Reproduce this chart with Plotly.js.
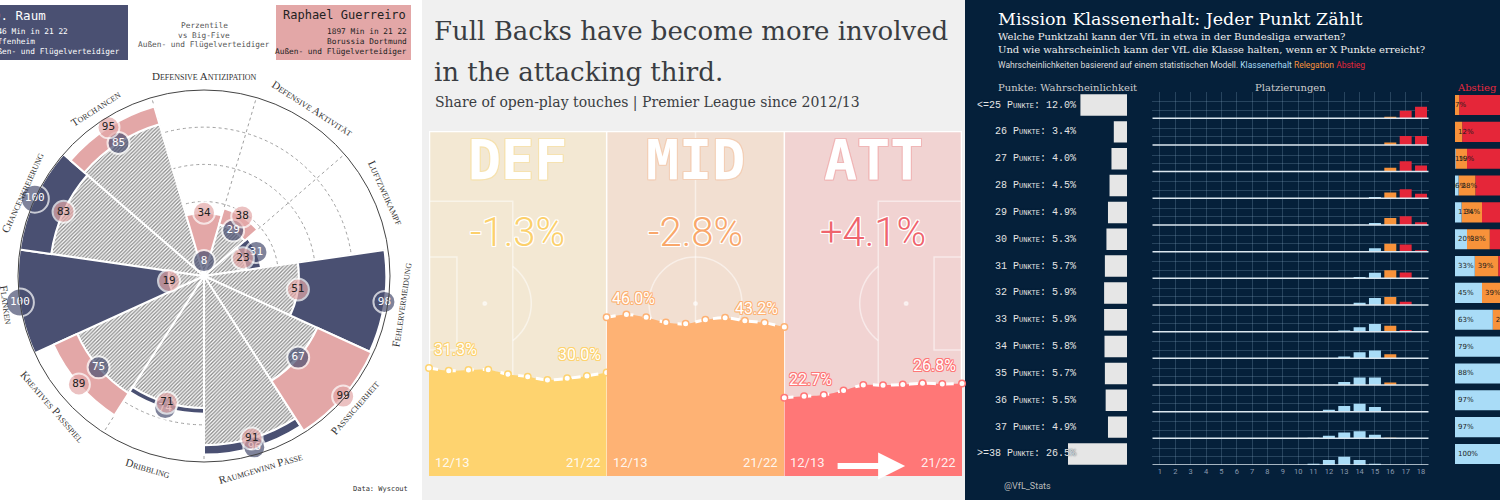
<!DOCTYPE html>
<html lang="de">
<head>
<meta charset="utf-8">
<title>Außenverteidiger</title>
<script src="https://cdn.plot.ly/plotly-3.0.1.min.js"></script>
<style>
  html, body { margin: 0; padding: 0; background: #fff; }
  #chart { width: 1500px; height: 500px; }
</style>
</head>
<body>
<div id="chart"></div>
<script>
// ================= Daten =================
// Perzentile vs Big-Five Außen- und Flügelverteidiger
const radarKategorien = ['Defensive Antizipation', 'Defensive Aktivität', 'Luftzweikampf', 'Fehlervermeidung',
  'Passsicherheit', 'Raumgewinn Pässe', 'Dribbling', 'Kreatives Passspiel', 'Flanken', 'Chancenkreierung', 'Torchancen'];
const raumPerzentile = [8, 29, 31, 98, 67, 96, 74, 75, 100, 100, 85];
const guerreiroPerzentile = [34, 38, 23, 51, 99, 91, 71, 89, 19, 83, 95];

// Share of open-play touches by pitch third, Premier League
const saisons = ['12/13', '13/14', '14/15', '15/16', '16/17', '17/18', '18/19', '19/20', '20/21', '21/22'];
const defAnteil = [31.3, 30.5, 30.7, 30.8, 29.5, 28.8, 27.8, 28.3, 29.0, 30.0];
const midAnteil = [46.0, 46.8, 46.0, 44.5, 44.1, 45.3, 45.9, 45.0, 44.4, 43.2];
const attAnteil = [22.7, 23.1, 23.5, 24.8, 26.4, 26.3, 26.5, 26.9, 26.7, 26.8];
const drittel = ['DEF', 'MID', 'ATT'];

// VfL: Punkteklassen und Platzierungen
const punkteKlassen = ['<=25', '26', '27', '28', '29', '30', '31', '32', '33', '34', '35', '36', '37', '>=38'];
const punkteWahrscheinlichkeit = [12.0, 3.4, 4.0, 4.5, 4.9, 5.3, 5.7, 5.9, 5.9, 5.8, 5.7, 5.5, 4.9, 26.5];
const plaetze = [1, 2, 3, 4, 5, 6, 7, 8, 9, 10, 11, 12, 13, 14, 15, 16, 17, 18];
// Wahrscheinlichkeit (%) je Tabellenplatz 1-18, eine Zeile pro Punkteklasse
const platzierungen = [
  [0, 0, 0, 0, 0, 0, 0, 0, 0, 0, 0, 0, 0, 0, 0, 7, 37, 56],
  [0, 0, 0, 0, 0, 0, 0, 0, 0, 0, 0, 0, 0, 0, 0, 12, 44, 44],
  [0, 0, 0, 0, 0, 0, 0, 0, 0, 0, 0, 0, 0, 0, 1, 19, 50, 30],
  [0, 0, 0, 0, 0, 0, 0, 0, 0, 0, 0, 0, 0, 0, 6, 28, 44, 22],
  [0, 0, 0, 0, 0, 0, 0, 0, 0, 0, 0, 0, 0, 1, 10, 34, 42, 13],
  [0, 0, 0, 0, 0, 0, 0, 0, 0, 0, 0, 0, 0, 3, 17, 38, 35, 7],
  [0, 0, 0, 0, 0, 0, 0, 0, 0, 0, 0, 0, 0, 6, 27, 39, 28, 0],
  [0, 0, 0, 0, 0, 0, 0, 0, 0, 0, 0, 0, 0, 11, 34, 39, 16, 0],
  [0, 0, 0, 0, 0, 0, 0, 0, 0, 0, 0, 0, 5, 21, 37, 29, 8, 0],
  [0, 0, 0, 0, 0, 0, 0, 0, 0, 0, 0, 2, 9, 30, 38, 20, 1, 0],
  [0, 0, 0, 0, 0, 0, 0, 0, 0, 0, 0, 1, 15, 36, 36, 12, 0, 0],
  [0, 0, 0, 0, 0, 0, 0, 0, 0, 0, 0, 9, 27, 38, 23, 3, 0, 0],
  [0, 0, 0, 0, 0, 0, 0, 0, 0, 0, 3, 12, 29, 35, 18, 3, 0, 0],
  [0, 0, 0, 0, 0, 0, 0, 0, 0, 0, 6, 24, 40, 24, 6, 0, 0, 0]
];
const klassenerhaltQuote = [0, 0, 1, 6, 11, 20, 33, 45, 63, 79, 88, 97, 97, 100];
const relegationQuote = [7, 12, 19, 28, 34, 38, 39, 39, 29, 20, 12, 3, 3, 0];
const abstiegQuote = [93, 88, 80, 66, 55, 42, 28, 16, 8, 1, 0, 0, 0, 0];

// ================= Hilfen =================
const W = 1500, H = 500;
const px = x => x / W;
const py = y => 1 - y / H;
const outline = (c, w) => [[w, 0], [-w, 0], [0, w], [0, -w], [w, w], [-w, -w], [w, -w], [-w, w]]
  .map(([a, b]) => `${a}px ${b}px 0 ${c}`).join(', ');

const NAVY = '#4a5072', PINK = '#e3a7a7';
const BLAU = '#a9dcf7', ORANGE = '#f8923a', ROT = '#e52639';
const MONO = 'DejaVu Sans Mono';

const traces = [];
const annotations = [];
const shapes = [];

// ================= Hintergründe =================
shapes.push({type: 'rect', xref: 'paper', yref: 'paper', x0: px(422), x1: px(965), y0: 0, y1: 1,
  fillcolor: '#f0f0f0', line: {width: 0}, layer: 'below'});
shapes.push({type: 'rect', xref: 'paper', yref: 'paper', x0: px(965), x1: 1, y0: 0, y1: 1,
  fillcolor: '#05203a', line: {width: 0}, layer: 'below'});

// ================= Panel 1: Radar =================
const N = radarKategorien.length;
const sektor = 360 / N;
const winkel = radarKategorien.map((_, i) => i * sektor);
const grenzen = radarKategorien.map((_, i) => (i + 0.5) * sektor);
const sockel = raumPerzentile.map((v, i) => Math.min(v, guerreiroPerzentile[i]));

traces.push({
  type: 'barpolar', r: sockel, theta: winkel, width: sektor, hoverinfo: 'skip',
  marker: {color: '#ffffff', line: {color: '#ffffff', width: 2},
    pattern: {shape: '/', fgcolor: '#8a8a8a', bgcolor: '#ffffff', size: 2.6, solidity: 0.5}}
});
traces.push({
  type: 'barpolar', base: sockel, theta: winkel, width: sektor, hoverinfo: 'skip',
  r: raumPerzentile.map((v, i) => Math.max(0, v - sockel[i])),
  marker: {color: NAVY, line: {color: '#ffffff', width: 2}}
});
traces.push({
  type: 'barpolar', base: sockel, theta: winkel, width: sektor, hoverinfo: 'skip',
  r: guerreiroPerzentile.map((v, i) => Math.max(0, v - sockel[i])),
  marker: {color: PINK, line: {color: '#ffffff', width: 2}}
});
const kreis = v => (String(v).length > 2 ? 28 : 22);
traces.push({
  type: 'scatterpolar', mode: 'markers+text', r: raumPerzentile, theta: winkel,
  text: raumPerzentile.map(String), cliponaxis: false, hoverinfo: 'skip',
  textfont: {family: MONO, size: 11, color: '#ffffff'},
  marker: {size: raumPerzentile.map(kreis), color: NAVY, line: {color: '#ffffff', width: 2}}
});
traces.push({
  type: 'scatterpolar', mode: 'markers+text', r: guerreiroPerzentile, theta: winkel,
  text: guerreiroPerzentile.map(String), cliponaxis: false, hoverinfo: 'skip',
  textfont: {family: MONO, size: 11, color: '#222222'},
  marker: {size: guerreiroPerzentile.map(kreis), color: PINK, line: {color: '#ffffff', width: 2}}
});

// Kategorienamen entlang des Kreises
const cx = 204, cy = 276, rLabel = 200;
radarKategorien.forEach((kat, i) => {
  const t = winkel[i];
  const rad = t * Math.PI / 180;
  const unten = t > 90 && t < 270;
  annotations.push({
    text: kat, xref: 'paper', yref: 'paper', showarrow: false,
    x: px(cx + rLabel * Math.sin(rad)), y: py(cy - rLabel * Math.cos(rad)),
    xanchor: 'center', yanchor: 'middle',
    textangle: unten ? t - 180 : (t > 180 ? t - 360 : t),
    font: {family: 'Liberation Serif', size: 11, color: '#333333', variant: 'small-caps'}
  });
});

// Spielerkästen
shapes.push({type: 'rect', xref: 'paper', yref: 'paper', x0: px(-10), x1: px(128), y0: py(60), y1: py(5),
  fillcolor: NAVY, line: {width: 0}});
shapes.push({type: 'rect', xref: 'paper', yref: 'paper', x0: px(276), x1: px(411), y0: py(60), y1: py(5),
  fillcolor: PINK, line: {width: 0}});
const kasten = (text, x, y, anchor, size, color) => annotations.push({
  text, x: px(x), y: py(y), xref: 'paper', yref: 'paper', xanchor: anchor, yanchor: 'middle',
  showarrow: false, font: {family: MONO, size, color}
});
kasten('D. Raum', -9, 15, 'left', 12.5, '#ffffff');
kasten('1946 Min in 21 22', -14, 31, 'left', 7.8, '#ffffff');
kasten('Hoffenheim', -14, 41.5, 'left', 7.8, '#ffffff');
kasten('Außen- und Flügelverteidiger', -14, 52, 'left', 7.8, '#ffffff');
kasten('Raphael Guerreiro', 281, 15, 'left', 12, '#222222');
kasten('1897 Min in 21 22', 409, 31, 'right', 7.8, '#222222');
kasten('Borussia Dortmund', 409, 41.5, 'right', 7.8, '#222222');
kasten('Außen- und Flügelverteidiger', 409, 52, 'right', 7.8, '#222222');
kasten('Perzentile', 204, 25, 'center', 7.8, '#555555');
kasten('vs Big-Five', 204, 35, 'center', 7.8, '#555555');
kasten('Außen- und Flügelverteidiger', 204, 45, 'center', 7.8, '#555555');
kasten('Data: Wyscout', 410, 489, 'right', 7, '#333333');

// ================= Panel 2: Spielfeld-Drittel =================
const k = 100 / 68; // Meter -> Prozentachse
const feldLinie = {color: 'rgba(255,255,255,0.5)', width: 1.5};
const drittelHintergrund = ['#f3e8d3', '#f2dfd1', '#f1d3d2'];
drittelHintergrund.forEach((c, i) => shapes.push({type: 'rect', xref: 'x', yref: 'y',
  x0: i * 35, x1: (i + 1) * 35, y0: 0, y1: 100, fillcolor: c, line: {width: 0}, layer: 'below'}));
const feldRect = (x0, x1, y0, y1) => shapes.push({type: 'rect', xref: 'x', yref: 'y', x0, x1,
  y0: y0 * k, y1: y1 * k, line: feldLinie, layer: 'below'});
const feldKreis = (xm, ym, r, fill) => shapes.push({type: 'circle', xref: 'x', yref: 'y',
  x0: xm - r, x1: xm + r, y0: (ym - r) * k, y1: (ym + r) * k, line: feldLinie,
  fillcolor: fill ? 'rgba(255,255,255,0.6)' : 'rgba(0,0,0,0)', layer: 'below'});
const bogen = (xSpot, seite) => {
  const phi = Math.acos(5.5 / 9.15);
  const pts = [];
  for (let j = 0; j <= 20; j++) {
    const a = -phi + 2 * phi * j / 20;
    pts.push(`${(xSpot + seite * 9.15 * Math.cos(a)).toFixed(3)},${((34 + 9.15 * Math.sin(a)) * k).toFixed(3)}`);
  }
  shapes.push({type: 'path', xref: 'x', yref: 'y', path: 'M' + pts.join(' L'), line: feldLinie, layer: 'below'});
};
feldRect(0, 16.5, 34 - 20.16, 34 + 20.16);
feldRect(0, 5.5, 34 - 9.16, 34 + 9.16);
feldRect(105 - 16.5, 105, 34 - 20.16, 34 + 20.16);
feldRect(105 - 5.5, 105, 34 - 9.16, 34 + 9.16);
feldKreis(52.5, 34, 9.15, false);
feldKreis(52.5, 34, 0.35, true);
feldKreis(11, 34, 0.35, true);
feldKreis(94, 34, 0.35, true);
bogen(11, 1);
bogen(94, -1);
shapes.push({type: 'line', xref: 'x', yref: 'y', x0: 52.5, x1: 52.5, y0: 0, y1: 100, line: feldLinie, layer: 'below'});
[35, 70].forEach(x => shapes.push({type: 'line', xref: 'x', yref: 'y', x0: x, x1: x, y0: 0, y1: 100,
  line: {color: 'rgba(255,255,255,0.95)', width: 1.5}, layer: 'below'}));
shapes.push({type: 'rect', xref: 'x', yref: 'y', x0: 0, x1: 105, y0: 0, y1: 100,
  line: {color: '#ffffff', width: 2.5}, layer: 'below'});

const drittelDaten = [defAnteil, midAnteil, attAnteil];
const drittelFarben = ['#fed36f', '#feb274', '#ff7777'];
const drittelText = ['#fcd06b', '#f9a76b', '#ef646d'];
const drittelKontur = ['#f6e2b0', '#f3cfb6', '#f0b7b7'];
drittelDaten.forEach((werte, i) => {
  const xa = 'x' + (i + 2);
  traces.push({
    type: 'scatter', xaxis: xa, yaxis: 'y', x: saisons, y: werte, mode: 'lines+markers',
    fill: 'tozeroy', fillcolor: drittelFarben[i], cliponaxis: false, hoverinfo: 'skip',
    line: {color: '#ffffff', width: 3, dash: 'dash', shape: 'spline', smoothing: 0.8},
    marker: {size: 6.5, color: '#ffffff', line: {color: drittelFarben[i], width: 1.5}}
  });
  const erst = werte[0], letzt = werte[werte.length - 1];
  const diff = letzt - erst;
  const wertFont = {family: 'Roboto', size: 16, color: '#ffffff', shadow: outline(drittelFarben[i], 0.8)};
  annotations.push({text: erst.toFixed(1) + '%', xref: xa, yref: 'y', x: saisons[0], y: erst,
    xanchor: 'left', yanchor: 'bottom', xshift: 3, yshift: 7, showarrow: false, font: wertFont});
  annotations.push({text: letzt.toFixed(1) + '%', xref: xa, yref: 'y', x: saisons[saisons.length - 1], y: letzt,
    xanchor: 'right', yanchor: 'bottom', xshift: -4, yshift: 7, showarrow: false, font: wertFont});
  const jahrFont = {family: 'Roboto', size: 13, color: 'rgba(255,255,255,0.9)'};
  annotations.push({text: saisons[0], xref: xa, yref: 'y', x: saisons[0], y: 0, xanchor: 'left',
    yanchor: 'bottom', xshift: 4, yshift: 4, showarrow: false, font: jahrFont});
  annotations.push({text: saisons[saisons.length - 1], xref: xa, yref: 'y', x: saisons[saisons.length - 1], y: 0,
    xanchor: 'right', yanchor: 'bottom', xshift: -4, yshift: 4, showarrow: false, font: jahrFont});
  annotations.push({text: drittel[i], xref: 'x', yref: 'y', x: 17.5 + 35 * i, y: 91.5, showarrow: false,
    xanchor: 'center', yanchor: 'middle',
    font: {family: MONO, size: 55, weight: 600, color: '#ffffff', shadow: outline(drittelKontur[i], 1)}});
  annotations.push({text: (diff > 0 ? '+' : '') + diff.toFixed(1) + '%', xref: 'x', yref: 'y',
    x: 17.5 + 35 * i, y: 70.5, showarrow: false, xanchor: 'center', yanchor: 'middle',
    font: {family: 'Roboto', size: 40, weight: 300, color: drittelText[i], shadow: outline('#ffffff', 1)}});
});
annotations.push({text: '', xref: 'x', yref: 'y', axref: 'x', ayref: 'y', x: 93.8, y: 2.9, ax: 80.2, ay: 2.9,
  showarrow: true, arrowhead: 2, arrowsize: 0.9, arrowwidth: 6, arrowcolor: '#ffffff'});

const titelFont = {family: 'DejaVu Serif', size: 26, color: '#3a3d42'};
annotations.push({text: 'Full Backs have become more involved', xref: 'paper', yref: 'paper', x: px(432), y: py(31),
  xanchor: 'left', yanchor: 'middle', showarrow: false, font: titelFont});
annotations.push({text: 'in the attacking third.', xref: 'paper', yref: 'paper', x: px(432), y: py(72),
  xanchor: 'left', yanchor: 'middle', showarrow: false, font: titelFont});
annotations.push({text: 'Share of open-play touches | Premier League since 2012/13', xref: 'paper', yref: 'paper',
  x: px(433), y: py(103), xanchor: 'left', yanchor: 'middle', showarrow: false,
  font: {family: 'DejaVu Serif', size: 14, color: '#3a3d42'}});

// ================= Panel 3: VfL =================
traces.push({type: 'bar', orientation: 'h', xaxis: 'x5', yaxis: 'y5', y: punkteKlassen, x: punkteWahrscheinlichkeit,
  width: 0.8, marker: {color: '#e6e6e6'}, hoverinfo: 'skip'});
// Zeilenbeschriftung über den Kategorienindex platzieren
punkteKlassen.forEach((kl, z) => annotations.push({
  text: `${kl.replace('<', '&lt;').replace('>', '&gt;')} Punkte: ${punkteWahrscheinlichkeit[z].toFixed(1)}%`,
  xref: 'paper', yref: 'y5', x: px(1078), y: z, xanchor: 'right', yanchor: 'middle', showarrow: false,
  font: {family: 'Liberation Mono', size: 10, color: '#e4e4e4', variant: 'small-caps',
    shadow: '0px 0px 1.5px #05203a'}
}));

const zeilenHoehe = 130;
const basisVon = z => (punkteKlassen.length - 1 - z) * zeilenHoehe;
const gruppen = [
  {farbe: BLAU, passt: p => p <= 15},
  {farbe: ORANGE, passt: p => p === 16},
  {farbe: ROT, passt: p => p >= 17}
];
gruppen.forEach(g => {
  const x = [], y = [], base = [];
  platzierungen.forEach((zeile, z) => zeile.forEach((v, j) => {
    if (g.passt(plaetze[j]) && v > 0) { x.push(plaetze[j]); y.push(v); base.push(basisVon(z)); }
  }));
  traces.push({type: 'bar', xaxis: 'x6', yaxis: 'y6', x, y, base, width: 0.78,
    marker: {color: g.farbe}, hoverinfo: 'skip'});
});
punkteKlassen.forEach((_, z) => shapes.push({type: 'line', xref: 'x6', yref: 'y6', x0: 0.5, x1: 18.5,
  y0: basisVon(z), y1: basisVon(z), line: {color: '#dce7f0', width: 1.5}, layer: 'above'}));

// Gestapelte Balken: Abstieg zuerst zeichnen, damit die Beschriftungen links darüber liegen
const stapel = [klassenerhaltQuote, relegationQuote, abstiegQuote];
const stapelFarben = [BLAU, ORANGE, ROT];
[2, 1, 0].forEach(s => {
  const werte = stapel[s];
  const base = werte.map((_, z) => stapel.slice(0, s).reduce((a, arr) => a + arr[z], 0));
  const trace = {type: 'bar', orientation: 'h', xaxis: 'x7', yaxis: 'y7', y: punkteKlassen, x: werte, base,
    width: 0.75, marker: {color: stapelFarben[s]}, hoverinfo: 'skip'};
  if (s < 2) {
    Object.assign(trace, {text: werte.map(v => (v > 0 ? v + '%' : '')), textposition: 'inside',
      insidetextanchor: 'start', constraintext: 'none', textangle: 0,
      textfont: {family: 'DejaVu Sans', size: 7, color: '#1c1c1c'}});
  }
  traces.push(trace);
});

const rechtsText = (text, x, y, anchor, font) => annotations.push({text, xref: 'paper', yref: 'paper',
  x: px(x), y: py(y), xanchor: anchor, yanchor: 'middle', showarrow: false, font});
rechtsText('Mission Klassenerhalt: Jeder Punkt Zählt', 996, 19, 'left',
  {family: 'DejaVu Serif', size: 17.5, color: '#ffffff'});
rechtsText('Welche Punktzahl kann der VfL in etwa in der Bundesliga erwarten?', 996, 37, 'left',
  {family: 'DejaVu Serif', size: 10, color: '#eeeeee'});
rechtsText('Und wie wahrscheinlich kann der VfL die Klasse halten, wenn er X Punkte erreicht?', 996, 50, 'left',
  {family: 'DejaVu Serif', size: 10, color: '#eeeeee'});
rechtsText('Wahrscheinlichkeiten basierend auf einem statistischen Modell. ' +
  `<span style="color:${BLAU}">Klassenerhalt</span> <span style="color:${ORANGE}">Relegation</span> ` +
  `<span style="color:${ROT}">Abstieg</span>`, 996, 65, 'left', {family: 'Roboto', size: 8.5, color: '#dddddd'});
rechtsText('Punkte: Wahrscheinlichkeit', 996, 88, 'left', {family: 'DejaVu Serif', size: 10, color: '#cccccc'});
rechtsText('Platzierungen', 1290, 88, 'center', {family: 'DejaVu Serif', size: 10, color: '#cccccc'});
rechtsText('Abstieg', 1455, 88, 'left', {family: 'DejaVu Serif', size: 10, color: '#e8283d'});
rechtsText('@VfL_Stats', 1027, 486, 'center', {family: 'Roboto', size: 9, color: '#bbbbbb'});

// ================= Layout =================
const gitter = 'rgba(130,160,190,0.28)';
const layout = {
  width: W, height: H, margin: {l: 0, r: 0, t: 0, b: 0},
  paper_bgcolor: '#ffffff', plot_bgcolor: 'rgba(0,0,0,0)', showlegend: false, barmode: 'overlay',
  font: {family: 'Roboto', color: '#333333'},
  polar: {
    domain: {x: [px(18), px(390)], y: [py(462), py(90)]},
    bgcolor: 'rgba(0,0,0,0)', barmode: 'overlay', hole: 0,
    radialaxis: {range: [0, 100], tickvals: [20, 40, 60, 80], showticklabels: false, ticks: '',
      showline: false, gridcolor: '#a0a0a0', griddash: 'dot', gridwidth: 1},
    angularaxis: {rotation: 90, direction: 'clockwise', tickvals: grenzen, showticklabels: false, ticks: '',
      gridcolor: '#a0a0a0', griddash: 'dot', showline: true, linecolor: '#444444', linewidth: 1}
  },
  xaxis: {domain: [px(429), px(962)], range: [0, 105], visible: false, fixedrange: true, anchor: 'y'},
  yaxis: {domain: [py(476), py(131)], range: [0, 100], visible: false, fixedrange: true, anchor: 'x'},
  xaxis2: {domain: [px(429), px(429 + 533 / 3)], anchor: 'y', type: 'category', categoryarray: saisons,
    range: [0, 9], visible: false},
  xaxis3: {domain: [px(429 + 533 / 3), px(429 + 2 * 533 / 3)], anchor: 'y', type: 'category',
    categoryarray: saisons, range: [0, 9], visible: false},
  xaxis4: {domain: [px(429 + 2 * 533 / 3), px(962)], anchor: 'y', type: 'category', categoryarray: saisons,
    range: [0, 9], visible: false},
  xaxis5: {domain: [px(1068), px(1127)], range: [15.2, 0], anchor: 'y5', visible: false},
  yaxis5: {domain: [py(467.4), py(91.6)], type: 'category', categoryarray: punkteKlassen,
    range: [13.5, -0.5], anchor: 'x5', visible: false},
  xaxis6: {domain: [px(1152.3), px(1428.7)], range: [0.5, 18.5], anchor: 'y6', tickvals: plaetze,
    showgrid: true, gridcolor: gitter, zeroline: false, showline: false, ticks: '',
    tickfont: {family: 'Roboto', size: 7.5, color: '#8a9bb0'}},
  yaxis6: {domain: [py(465), py(91.6)], range: [0, punkteKlassen.length * zeilenHoehe], anchor: 'x6',
    tickvals: punkteKlassen.flatMap((_, z) => [basisVon(z) + 40, basisVon(z) + 80]),
    showgrid: true, gridcolor: gitter, showticklabels: false, zeroline: false, showline: false, ticks: ''},
  xaxis7: {domain: [px(1455), 1], range: [0, 75], anchor: 'y7', visible: false},
  yaxis7: {domain: [py(467.4), py(91.6)], type: 'category', categoryarray: punkteKlassen,
    range: [13.5, -0.5], anchor: 'x7', visible: false},
  shapes, annotations
};

Plotly.newPlot('chart', traces, layout, {staticPlot: true, displayModeBar: false});
</script>
</body>
</html>
